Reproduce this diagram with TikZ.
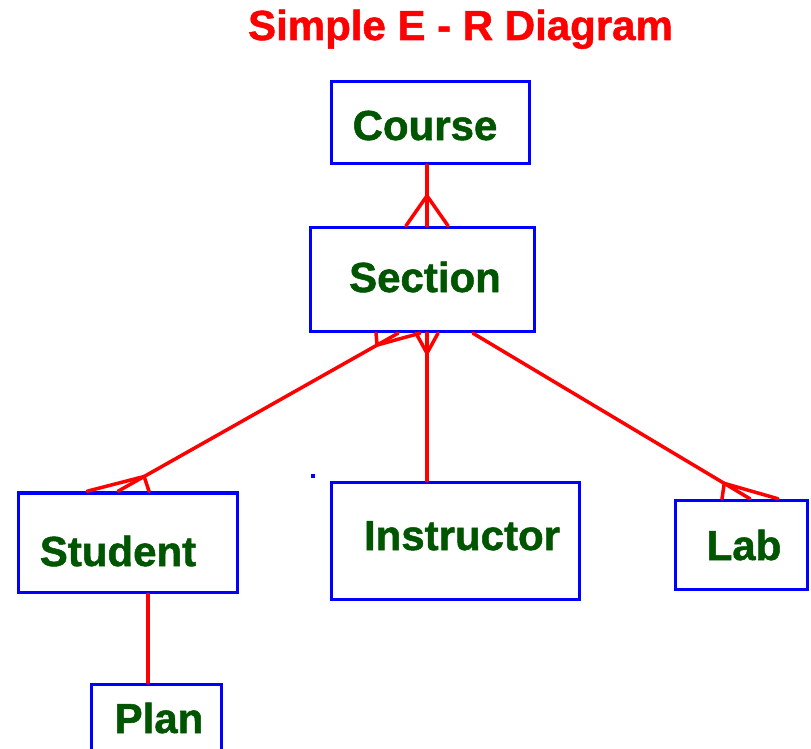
\documentclass[tikz,border=0pt]{standalone}
\usepackage{fontspec}
\setmainfont{Liberation Sans}
\newfontfamily\heavyfont{Liberation Sans}[BoldFeatures={FakeBold=1.2}]
\usetikzlibrary{calc}
\definecolor{entgreen}{RGB}{0,85,0}
\definecolor{relred}{RGB}{255,0,0}
\definecolor{entblue}{RGB}{0,0,255}
\newcommand{\crowsfoot}[4]{%
	\draw[rel] ($(#1)!#3!(#2)$) -- ($(#1)+(#4,0)$);
	\draw[rel] ($(#1)!#3!(#2)$) -- ($(#1)-(#4,0)$);}
\begin{document}
\begin{tikzpicture}[x=1pt,y=-1pt,line cap=round,
		entity/.style={draw=entblue,line width=3.5pt,inner sep=0},
		etext/.style={text=entgreen,font=\fontsize{42}{48}\heavyfont\bfseries,inner sep=0,anchor=base},
		rel/.style={draw=relred,line width=3.5pt}]
	\useasboundingbox (0,0) rectangle (811,749);
	\node[text=relred,font=\fontsize{42}{48}\heavyfont\bfseries,inner sep=0,anchor=base] (title) at (460.5,40) {Simple E - R Diagram};
	\node[entity,minimum width=198pt,minimum height=82pt] (course) at (430.5,122.5) {};
	\node[entity,minimum width=224pt,minimum height=104pt] (section) at (422.5,279.5) {};
	\node[entity,minimum width=219pt,minimum height=99.5pt] (student) at (128,542.75) {};
	\node[entity,minimum width=248pt,minimum height=117pt] (instructor) at (455.5,541) {};
	\node[entity,minimum width=132pt,minimum height=89pt] (lab) at (741.5,545) {};
	\node[entity,minimum width=130pt,minimum height=75pt] (plan) at (156.5,722) {};
	\node[etext] (coursetxt) at (425,140) {Course};
	\node[etext] (sectiontxt) at (425,292) {Section};
	\node[etext] (studenttxt) at (118,566) {Student};
	\node[etext] (instructortxt) at (462,550) {Instructor};
	\node[etext] (labtxt) at (744,560) {Lab};
	\node[etext] (plantxt) at (159,733) {Plan};
	\node[fill=entblue,inner sep=0,minimum size=4pt] (dot) at (313,476) {};
	\coordinate (cs-a) at ([xshift=-3.5pt]course.south);
	\coordinate (cs-b) at ([xshift=4.5pt]section.north);
	\coordinate (si-a) at ([xshift=4.5pt]section.south);
	\coordinate (si-b) at ([xshift=-28.5pt]instructor.north);
	\coordinate (ss-a) at ([xshift=-24.5pt]section.south);
	\coordinate (ss-b) at ([xshift=-10pt]student.north);
	\coordinate (sl-a) at ([xshift=50.5pt]section.south);
	\coordinate (sl-b) at ([xshift=8.5pt]lab.north);
	\coordinate (sp-a) at ([xshift=20pt]student.south);
	\coordinate (sp-b) at ([xshift=-8.5pt]plan.north);
	\draw[rel] (cs-a) -- (cs-b);
	\draw[rel] (si-a) -- (si-b);
	\draw[rel] (ss-a) -- (ss-b);
	\draw[rel] (sl-a) -- (sl-b);
	\draw[rel] (sp-a) -- (sp-b);
	\crowsfoot{cs-b}{cs-a}{30pt}{21}
	\crowsfoot{si-a}{si-b}{20pt}{11}
	\crowsfoot{ss-a}{ss-b}{24pt}{22}
	\crowsfoot{ss-b}{ss-a}{30pt}{31}
	\crowsfoot{sl-b}{sl-a}{30pt}{28}
\end{tikzpicture}
\end{document}
